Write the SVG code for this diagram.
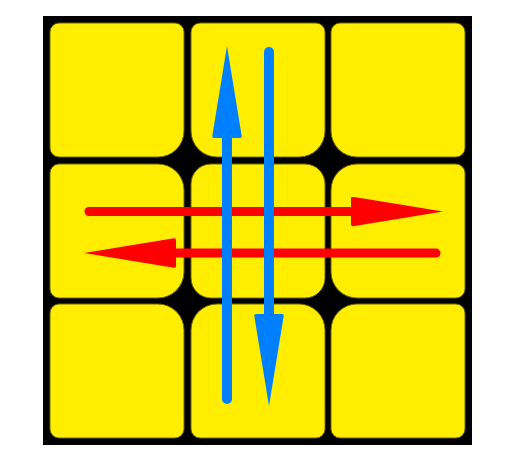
<svg xmlns="http://www.w3.org/2000/svg" width="517" height="469" viewBox="0 0 517 469">
  <style>
    .tile { fill: #FFEE00; stroke: #6e6600; stroke-width: 1; }
    .blue { stroke: #0080FF; stroke-width: 10; stroke-linecap: round; fill: none; }
    .red { stroke: #FF0000; stroke-width: 9; stroke-linecap: round; fill: none; }
  </style>
  <defs>
    <marker id="headBlue" viewBox="0 0 92 30" refX="0" refY="15" markerWidth="92" markerHeight="30" markerUnits="userSpaceOnUse" orient="auto">
      <path d="M0,2 Q0,0 2,0.3 L92,15 L2,29.7 Q0,30 0,28 Z" fill="#0080FF"/>
    </marker>
    <marker id="headRed" viewBox="0 0 92 30" refX="0" refY="15" markerWidth="92" markerHeight="30" markerUnits="userSpaceOnUse" orient="auto">
      <path d="M0,2 Q0,0 2,0.3 L92,15 L2,29.7 Q0,30 0,28 Z" fill="#FF0000"/>
    </marker>
  </defs>
  <rect id="frame" x="43" y="16" width="429" height="429" fill="#000000"/>
  <g id="tile-top-left"><path class="tile" d="M59,23 H175 A9 9 0 0 1 184,32 V131 A26 26 0 0 1 158,157 H59 A9 9 0 0 1 50,148 V32 A9 9 0 0 1 59,23 Z"/></g>
  <g id="tile-top-middle"><path class="tile" d="M200,23 H316 A9 9 0 0 1 325,32 V131 A26 26 0 0 1 299,157 H217 A26 26 0 0 1 191,131 V32 A9 9 0 0 1 200,23 Z"/></g>
  <g id="tile-top-right"><path class="tile" d="M340,23 H456 A9 9 0 0 1 465,32 V148 A9 9 0 0 1 456,157 H357 A26 26 0 0 1 331,131 V32 A9 9 0 0 1 340,23 Z"/></g>
  <g id="tile-middle-left"><path class="tile" d="M59,164 H158 A26 26 0 0 1 184,190 V272 A26 26 0 0 1 158,298 H59 A9 9 0 0 1 50,289 V173 A9 9 0 0 1 59,164 Z"/></g>
  <g id="tile-center"><rect class="tile" x="191" y="164" width="134" height="134" rx="20" ry="20"/></g>
  <g id="tile-middle-right"><path class="tile" d="M357,164 H456 A9 9 0 0 1 465,173 V289 A9 9 0 0 1 456,298 H357 A26 26 0 0 1 331,272 V190 A26 26 0 0 1 357,164 Z"/></g>
  <g id="tile-bottom-left"><path class="tile" d="M59,304 H158 A26 26 0 0 1 184,330 V429 A9 9 0 0 1 175,438 H59 A9 9 0 0 1 50,429 V313 A9 9 0 0 1 59,304 Z"/></g>
  <g id="tile-bottom-middle"><path class="tile" d="M217,304 H299 A26 26 0 0 1 325,330 V429 A9 9 0 0 1 316,438 H200 A9 9 0 0 1 191,429 V330 A26 26 0 0 1 217,304 Z"/></g>
  <g id="tile-bottom-right"><path class="tile" d="M357,304 H456 A9 9 0 0 1 465,313 V429 A9 9 0 0 1 456,438 H340 A9 9 0 0 1 331,429 V330 A26 26 0 0 1 357,304 Z"/></g>
  <g id="connectors">
    <line class="red" x1="89" y1="211.5" x2="351" y2="211.5" marker-end="url(#headRed)"/>
    <line class="red" x1="436" y1="253" x2="176" y2="253" marker-end="url(#headRed)"/>
    <line class="blue" x1="227" y1="399" x2="227" y2="138" marker-end="url(#headBlue)"/>
    <line class="blue" x1="269" y1="52" x2="269" y2="314" marker-end="url(#headBlue)"/>
  </g>
</svg>
